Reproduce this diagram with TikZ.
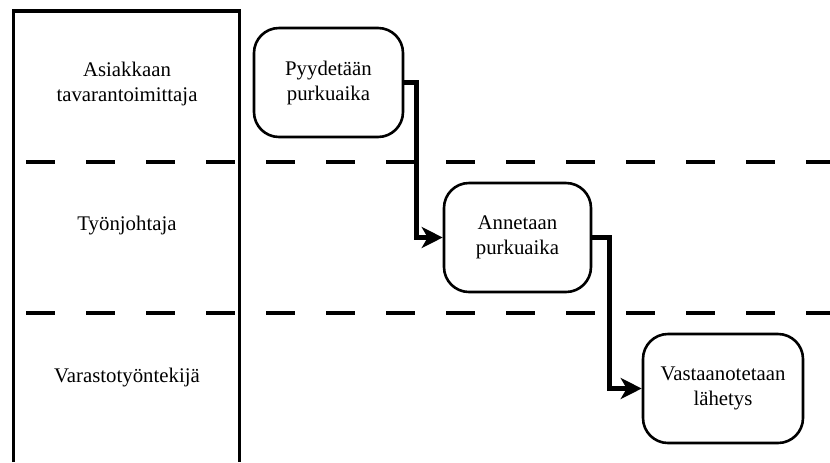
\documentclass[tikz,border=0pt]{standalone}
\usepackage{fontspec}
\setmainfont{Liberation Serif}
\newfontfamily\lanefont{Liberation Serif}
\usetikzlibrary{arrows.meta}
\begin{document}
\begin{tikzpicture}[x=0.5pt,y=-0.5pt,
  lanetext/.style={align=center,inner sep=0pt,font=\lanefont\fontsize{10.4}{12.5}\selectfont},
  taskbox/.style={draw,line width=1.3pt,rounded corners=12.5pt,align=center,inner sep=0pt,
    font=\lanefont\fontsize{10.4}{12.5}\selectfont,minimum height=54.5pt},
  lanesep/.style={line width=2.2pt,dash pattern=on 14.5pt off 15.5pt},
  laneframe/.style={line width=1.6pt},
  flow/.style={line width=2.5pt,-{Stealth[length=10.5pt,width=10.5pt,inset=3pt]}}]
\useasboundingbox (0,0) rectangle (830,462);

% lane header column
\draw[laneframe] (13.5,462) -- (13.5,11) -- (239.5,11) -- (239.5,462);

% lane separators
\draw[lanesep] (26,162) -- (830,162);
\draw[lanesep] (26,313) -- (830,313);

% lane names
\node[lanetext] (lane1) at (127,84) {Asiakkaan\\tavarantoimittaja};
\node[lanetext] (lane2) at (127,226) {Työnjohtaja};
\node[lanetext] (lane3) at (127,378) {Varastotyöntekijä};

% tasks
\node[taskbox,minimum width=74.5pt] (p1) at (328.5,82.5) {Pyydetään\\purkuaika};
\node[taskbox,minimum width=73.5pt] (p2) at (517.5,237.5) {Annetaan\\purkuaika};
\node[taskbox,minimum width=80pt] (p3) at (723,388.5) {Vastaanotetaan\\lähetys};

% flow
\draw[flow] (p1.east) -- ++(12.5,0) |- (p2.west);
\draw[flow] (p2.east) -- ++(17,0) |- (p3.west);
\end{tikzpicture}
\end{document}
